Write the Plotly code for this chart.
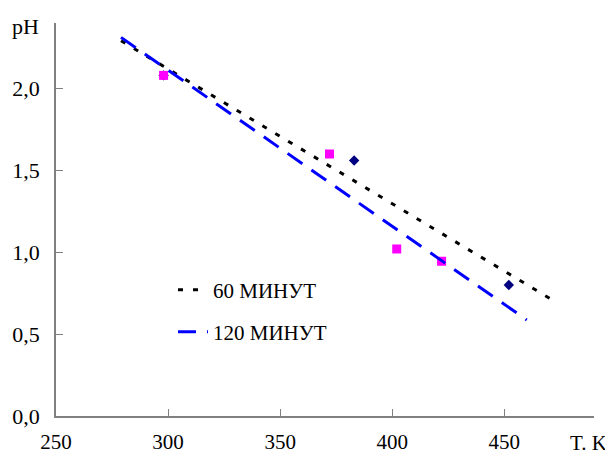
import numpy as np
import plotly.graph_objects as go

# ---- data ----
temp_60 = [298, 383, 452]
ph_60 = [2.08, 1.56, 0.80]
temp_120 = [298, 372, 402, 422]
ph_120 = [2.08, 1.60, 1.02, 0.945]
trend_span_60 = [279, 473]
trend_span_120 = [279, 460]
x_ticks = [250, 300, 350, 400, 450]
y_ticks = [0.0, 0.5, 1.0, 1.5, 2.0]
label_60 = "60 МИНУТ"
label_120 = "120 МИНУТ"

FONT = "Liberation Serif, Times New Roman, serif"
FS = 22


def trend(xs, ys, span):
    k, b = np.polyfit(xs, ys, 1)
    xx = np.array(span, dtype=float)
    return xx, k * xx + b


tx60, ty60 = trend(temp_60, ph_60, trend_span_60)
tx120, ty120 = trend(temp_120, ph_120, trend_span_120)

fig = go.Figure()
fig.add_trace(go.Scatter(x=temp_60, y=ph_60, mode="markers", showlegend=False,
                         marker=dict(symbol="diamond", size=8, color="#000080")))
fig.add_trace(go.Scatter(x=temp_120, y=ph_120, mode="markers", showlegend=False,
                         marker=dict(symbol="square", size=9, color="#FF00FF")))
fig.add_trace(go.Scatter(x=tx60, y=ty60, mode="lines", name=label_60, legend="legend",
                         line=dict(color="black", width=3, dash="5px,10px")))
fig.add_trace(go.Scatter(x=tx120, y=ty120, mode="lines", name=label_120, legend="legend2",
                         line=dict(color="#0000FF", width=3, dash="18px,11px")))

axis_common = dict(showgrid=False, zeroline=False, showline=True, linecolor="#808080",
                   linewidth=1.5, ticks="inside", ticklen=7, tickcolor="#808080",
                   tickwidth=1, automargin=False)

fig.update_xaxes(range=[250, 490], tickvals=x_ticks, ticklabelstandoff=6,
                 tickfont=dict(family=FONT, size=21, color="black"), **axis_common)
fig.update_yaxes(range=[0, 2.4], tickvals=y_ticks, tickformat=".1f", ticklabelstandoff=10,
                 tickfont=dict(family=FONT, size=FS, color="black"), **axis_common)

legend_common = dict(font=dict(family=FONT, size=21, color="black"), bgcolor="rgba(0,0,0,0)",
                     xanchor="left", yanchor="middle", borderwidth=0)
# page body has an 8px margin, so the figure is sized/offset to compensate
fig.update_layout(
    width=605, height=447,
    margin=dict(l=48, r=19, t=15, b=39),
    paper_bgcolor="white", plot_bgcolor="white",
    separators=", ",
    font=dict(family=FONT, size=FS, color="black"),
    legend=dict(x=0.2175, y=0.3206, **legend_common),
    legend2=dict(x=0.2175, y=0.2137, **legend_common),
    annotations=[
        dict(text="pH", xref="paper", yref="paper", x=-0.056, y=0.99, xanchor="center",
             yanchor="middle", showarrow=False, font=dict(family=FONT, size=FS)),
        dict(text="T. K", xref="paper", yref="paper", x=1.026, y=-0.069, xanchor="right",
             yanchor="middle", showarrow=False, borderpad=0,
             font=dict(family=FONT, size=21)),
    ],
)

fig.write_html("out.html")
